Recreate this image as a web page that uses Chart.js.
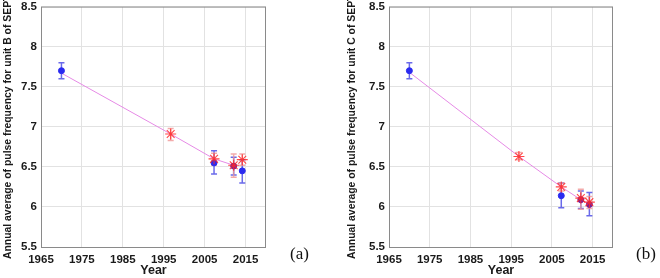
<!DOCTYPE html>
<html>
<head>
<meta charset="utf-8">
<script src="https://cdn.jsdelivr.net/npm/chart.js@4.4.0/dist/chart.umd.min.js"></script>
<style>
  html,body{margin:0;padding:0;background:#fff;}
  #wrap{position:relative;width:660px;height:278px;overflow:hidden;}
  .panel{position:absolute;top:0;width:330px;height:278px;}
  .tag{position:absolute;top:244px;font-family:"Liberation Serif","DejaVu Serif",serif;font-size:17px;color:#111;}
</style>
</head>
<body>
<div id="wrap">
  <div class="panel" style="left:0"><canvas id="chartA" width="330" height="278"></canvas></div>
  <div class="panel" style="left:330px"><canvas id="chartB" width="330" height="278"></canvas></div>
  <div class="tag" style="left:290px">(a)</div>
  <div class="tag" style="left:636px">(b)</div>
</div>
<script>
/* ── data ── */
const tickYears=[1965,1975,1985,1995,2005,2015];
const tickVals=[5.5,6,6.5,7,7.5,8,8.5];

// panel (a) — unit B
const aBlueYears=[1970,2007.3,2012.1,2014.2];
const aBlueVals=[7.70,6.55,6.51,6.45];
const aBlueLo=[7.60,6.41,6.40,6.30];
const aBlueHi=[7.80,6.70,6.62,6.59];
const aRedYears=[1996.7,2007.3,2012.1,2014.2];
const aRedVals=[6.91,6.60,6.52,6.59];
const aRedLo=[6.83,6.52,6.37,6.52];
const aRedHi=[6.98,6.67,6.66,6.66];
const aLineYears=[1970,1996.7,2007.3,2012.1];
const aLineVals=[7.67,6.91,6.60,6.52];

// panel (b) — unit C
const bBlueYears=[1970,2007.3,2012.1,2014.2];
const bBlueVals=[7.70,6.14,6.09,6.03];
const bBlueLo=[7.60,5.99,5.98,5.89];
const bBlueHi=[7.80,6.30,6.20,6.18];
const bRedYears=[1996.9,2007.3,2012.1,2014.2];
const bRedVals=[6.63,6.25,6.11,6.06];
const bRedLo=[6.59,6.20,5.97,5.98];
const bRedHi=[6.68,6.30,6.22,6.13];
const bLineYears=[1970,1996.9,2007.3,2012.1,2014.2];
const bLineVals=[7.68,6.63,6.25,6.09,6.04];

const pts=(xs,ys)=>xs.map((x,i)=>({x:x,y:ys[i]}));

/* error bars + frame */
const errorBars={
  id:'errorBars',
  beforeDatasetsDraw(chart){
    const {ctx,scales:{x,y}}=chart;
    const bars=chart.options.plugins.errorBars.sets;
    ctx.save();
    ctx.lineWidth=1.5;
    bars.forEach(s=>{
      ctx.strokeStyle=s.color;
      s.xs.forEach((xv,i)=>{
        const px=x.getPixelForValue(xv);
        const p1=y.getPixelForValue(s.lo[i]);
        const p2=y.getPixelForValue(s.hi[i]);
        ctx.beginPath();
        ctx.moveTo(px,p1);ctx.lineTo(px,p2);
        ctx.moveTo(px-3,p1);ctx.lineTo(px+3,p1);
        ctx.moveTo(px-3,p2);ctx.lineTo(px+3,p2);
        ctx.stroke();
      });
    });
    ctx.restore();
  },
  afterDraw(chart){
    const {ctx,chartArea:a}=chart;
    ctx.save();
    ctx.strokeStyle='#8a8a8a';
    ctx.lineWidth=1;
    ctx.strokeRect(a.left+0.5,a.top+0.5,a.right-a.left-1,a.bottom-a.top);
    ctx.restore();
  }
};

function makeChart(id,o){
  const fam='Arial,"Liberation Sans",sans-serif';
  const tickFont={family:fam,size:11.5,weight:'bold'};
  return new Chart(document.getElementById(id),{
    type:'scatter',
    data:{datasets:[
      {data:pts(o.redYears,o.redVals),pointStyle:'star',pointRadius:5.5,borderColor:'rgba(255,40,40,0.85)',
       backgroundColor:'rgba(255,40,40,0.85)',borderWidth:1.1,showLine:false},
      {data:pts(o.blueYears,o.blueVals),pointStyle:'circle',pointRadius:3,
       backgroundColor:o.blueColors,borderColor:o.blueColors,borderWidth:1,showLine:false},
      {data:pts(o.lineYears,o.lineVals),showLine:true,borderColor:'#e68ae6',borderWidth:1,pointRadius:0}
    ]},
    options:{
      responsive:false,animation:false,
      layout:{padding:{left:0,right:o.padRight,top:5,bottom:0}},
      plugins:{legend:{display:false},tooltip:{enabled:false},
        errorBars:{sets:[
          {xs:o.blueYears,lo:o.blueLo,hi:o.blueHi,color:'rgba(80,80,230,0.85)'},
          {xs:o.redYears,lo:o.redLo,hi:o.redHi,color:'rgba(240,150,150,0.8)'}
        ]}},
      scales:{
        x:{type:'linear',min:1965,max:2020,
          afterBuildTicks:s=>{s.ticks=tickYears.map(v=>({value:v}));},
          afterFit:s=>{s.height=31;s.paddingLeft=0;s.paddingRight=0;},
          grid:{color:'#e2e2e2',drawTicks:false},
          border:{display:false},
          ticks:{font:tickFont,color:'#1a1a1a',padding:6,maxRotation:0,callback:v=>String(v)},
          title:{display:true,text:'Year',font:{family:fam,size:12.5,weight:'bold'},color:'#1a1a1a',padding:{top:4,bottom:0}}},
        y:{min:5.5,max:8.5,
          afterBuildTicks:s=>{s.ticks=tickVals.map(v=>({value:v}));},
          afterFit:s=>{s.width=o.yWidth;s.paddingTop=0;s.paddingBottom=0;},
          grid:{color:'#e2e2e2',drawTicks:false},
          border:{display:false},
          ticks:{font:tickFont,color:'#1a1a1a',padding:4,callback:v=>String(v)},
          title:{display:true,text:o.yTitle,font:{family:fam,size:10.4,weight:'bold'},color:'#1a1a1a',padding:{top:o.titlePad,bottom:0}}}
      }
    },
    plugins:[errorBars]
  });
}

const blue='#2a2af0', purple='#7a1f96';
makeChart('chartA',{
  blueYears:aBlueYears,blueVals:aBlueVals,blueLo:aBlueLo,blueHi:aBlueHi,
  redYears:aRedYears,redVals:aRedVals,redLo:aRedLo,redHi:aRedHi,
  lineYears:aLineYears,lineVals:aLineVals,
  blueColors:[blue,blue,purple,blue],
  padRight:64,yWidth:41,titlePad:2,
  yTitle:'Annual average of pulse frequency for unit B of SEPT'
});
makeChart('chartB',{
  blueYears:bBlueYears,blueVals:bBlueVals,blueLo:bBlueLo,blueHi:bBlueHi,
  redYears:bRedYears,redVals:bRedVals,redLo:bRedLo,redHi:bRedHi,
  lineYears:bLineYears,lineVals:bLineVals,
  blueColors:[blue,blue,purple,purple],
  padRight:47,yWidth:59,titlePad:16,
  yTitle:'Annual average of pulse frequency for unit C of SEPT'
});
</script>
</body>
</html>
